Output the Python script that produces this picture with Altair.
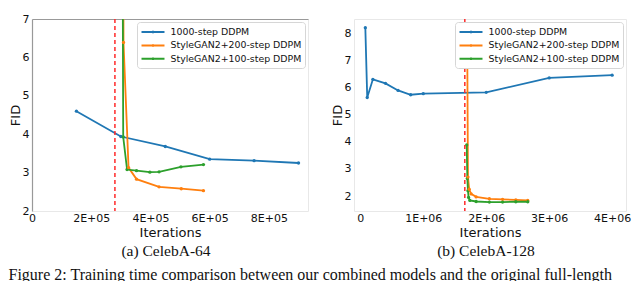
import altair as alt
import pandas as pd

series_names = ["1000-step DDPM", "StyleGAN2+200-step DDPM", "StyleGAN2+100-step DDPM"]
series_colors = ["#1f77b4", "#ff7f0e", "#2ca02c"]

# (a) CelebA-64
a_blue_x = [150000, 300000, 450000, 600000, 750000, 900000]
a_blue_y = [4.60, 3.94, 3.68, 3.35, 3.31, 3.25]
a_orange_x = [307000, 309000, 326000, 353000, 429000, 504000, 579000]
a_orange_y = [14.0, 6.39, 3.13, 2.83, 2.63, 2.58, 2.53]
a_green_x = [304000, 308000, 321000, 353000, 398000, 429000, 503000, 579000]
a_green_y = [14.0, 3.93, 3.08, 3.05, 3.01, 3.02, 3.15, 3.21]
a_split = 280000

# (b) CelebA-128
b_blue_x = [80000, 110000, 200000, 400000, 600000, 800000, 1000000, 2000000, 3000000, 4000000]
b_blue_y = [8.20, 5.63, 6.30, 6.15, 5.89, 5.73, 5.77, 5.82, 6.35, 6.45]
b_orange_x = [1700000, 1710000, 1730000, 1760000, 1840000, 2050000, 2260000, 2470000, 2660000]
b_orange_y = [6.92, 2.70, 2.25, 2.08, 1.97, 1.90, 1.88, 1.86, 1.84]
b_green_x = [1690000, 1700000, 1710000, 1720000, 1740000, 1840000, 2050000, 2260000, 2470000, 2660000]
b_green_y = [3.88, 2.65, 2.20, 1.95, 1.84, 1.80, 1.78, 1.78, 1.79, 1.79]
b_split = 1660000

a_xticks = [0, 200000, 400000, 600000, 800000]
a_yticks = [2, 3, 4, 5, 6, 7]
b_xticks = [0, 1000000, 2000000, 3000000, 4000000]
b_yticks = [2, 3, 4, 5, 6, 7, 8]

caption_a = "(a) CelebA-64"
caption_b = "(b) CelebA-128"
figure_caption = "Figure 2: Training time comparison between our combined models and the original full-length"

SANS = "DejaVu Sans"
SERIF = "Liberation Serif"
INK = "#111111"


def frame(xs_list, ys_list):
    rows = []
    for name, xs, ys in zip(series_names, xs_list, ys_list):
        for x, y in zip(xs, ys):
            rows.append({"it": x, "fid": y, "series": name})
    return pd.DataFrame(rows)


def legend():
    return alt.Legend(
        title=None, orient="top-right", offset=3, padding=3,
        strokeColor="#d6d6d6", fillColor="white", cornerRadius=3,
        symbolType="M-2,0H2M0,-0.22V0.22", symbolSize=132, symbolStrokeWidth=2,
        symbolOffset=6, labelOffset=10.5,
        labelFont=SANS, labelFontSize=9.4, labelColor=INK,
        rowPadding=0.4,
    )


def panel(df, xdom, ydom, xticks, yticks, split, exp_label, caption,
          ydomain_color, top_spine, width):
    color = alt.Color("series:N", sort=series_names,
                      scale=alt.Scale(domain=series_names, range=series_colors),
                      legend=legend())
    if exp_label == "05":
        lab = "datum.value == 0 ? '0' : format(datum.value/100000, 'd') + 'E+05'"
    else:
        lab = "datum.value == 0 ? '0' : format(datum.value/1000000, 'd') + 'E+06'"
    x = alt.X("it:Q", scale=alt.Scale(domain=xdom, nice=False, zero=False),
              axis=alt.Axis(values=xticks, labelExpr=lab, ticks=False, domain=False,
                            grid=False, labelFontSize=11, labelPadding=1,
                            labelOverlap=False, labelFlush=False,
                            title="Iterations", titleFontSize=13, titlePadding=3.5))
    y = alt.Y("fid:Q", scale=alt.Scale(domain=ydom, nice=False, zero=False),
              axis=alt.Axis(values=yticks, ticks=False, grid=False,
                            domain=ydomain_color is not None,
                            domainColor=ydomain_color or "#eeeeee", domainWidth=1.2,
                            labelOverlap=False, labelFlush=False,
                            labelFontSize=11, labelPadding=3,
                            title="FID", titleFontSize=13, titlePadding=0))
    lines = alt.Chart(df).mark_line(
        strokeWidth=1.8, clip=True,
        point=alt.OverlayMarkDef(filled=True, size=11, opacity=1, clip=True),
    ).encode(x=x, y=y, color=color, order=alt.Order("it:Q"))
    if top_spine:
        rx = alt.datum(split, axis=alt.Axis(orient="top", labels=False, ticks=False,
                                            title=None, grid=False, domainColor="#999999",
                                            domainWidth=1.2))
    else:
        rx = alt.datum(split, axis=None)
    rule = alt.Chart(pd.DataFrame({"v": [split]})).mark_rule(
        color="#ff2a2a", strokeDash=[4, 3], strokeWidth=1.5, clip=True).encode(x=rx)
    return alt.layer(lines, rule).resolve_axis(x="independent").properties(
        width=width, height=192,
        view=alt.ViewBackground(stroke="#e8e8e8"),
        title=alt.TitleParams(caption, orient="bottom", anchor="middle", frame="group",
                              font=SERIF, fontSize=15.5, fontWeight="normal", color=INK,
                              offset=4, dx=-4),
    )


left = panel(frame([a_blue_x, a_orange_x, a_green_x], [a_blue_y, a_orange_y, a_green_y]),
             [0, 932000], [2, 7], a_xticks, a_yticks, a_split, "05", caption_a,
             "#999999", True, 276)
right = panel(frame([b_blue_x, b_orange_x, b_green_x], [b_blue_y, b_orange_y, b_green_y]),
              [-100000, 4220000], [1.45, 8.52], b_xticks, b_yticks, b_split, "06", caption_b,
              None, False, 272)

chart = alt.hconcat(left, right, spacing=21).resolve_scale(
    color="independent").resolve_legend(color="independent").properties(
    padding={"left": 0, "top": 4, "right": 0, "bottom": 0},
    title=alt.TitleParams(figure_caption, orient="bottom", anchor="start",
                          font=SERIF, fontSize=16, fontWeight="normal", color=INK,
                          offset=7),
).configure_axis(
    labelFont=SANS, titleFont=SANS, labelColor=INK, titleColor=INK,
    titleFontWeight="normal",
)

chart.save("out.html", embed_options={"renderer": "svg", "actions": False})
